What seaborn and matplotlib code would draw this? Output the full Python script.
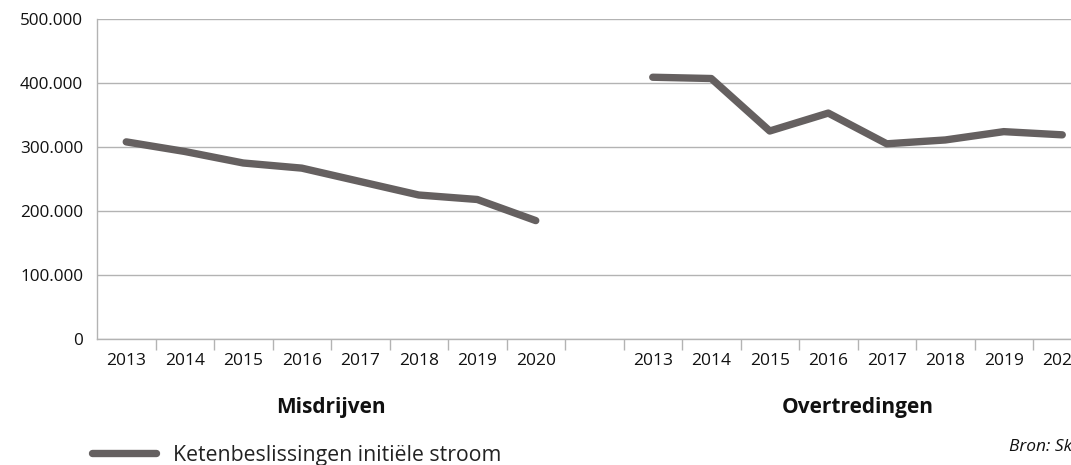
import matplotlib
matplotlib.use("Agg")
import matplotlib.pyplot as plt
import seaborn as sns
import pandas as pd
from matplotlib.ticker import FuncFormatter

years = ["2013", "2014", "2015", "2016", "2017", "2018", "2019", "2020"]
misdrijven = [308000, 293000, 275000, 267000, 246000, 225000, 218000, 185000]
overtredingen = [409000, 407000, 325000, 353000, 305000, 311000, 324000, 319000]
groups = ["Misdrijven", "Overtredingen"]
series_name = "Ketenbeslissingen initiële stroom"
source = "Bron: Skdb"

sns.set_theme(style="white")
plt.rcParams["font.family"] = ["Open Sans", "DejaVu Sans"]

rows = []
for g, vals, offset in [(groups[0], misdrijven, 0), (groups[1], overtredingen, 9)]:
    for i, (y, v) in enumerate(zip(years, vals)):
        rows.append({"group": g, "year": y, "pos": offset + i, "value": v})
df = pd.DataFrame(rows)

W, H = 1071, 465
fig = plt.figure(figsize=(W / 100, H / 100), dpi=100)
cat_w = 58.5
ax = fig.add_axes([97 / W, (H - 339) / H, 17 * cat_w / W, 320 / H])

line_color = "#656060"
for i, g in enumerate(groups):
    sub = df[df["group"] == g]
    sns.lineplot(data=sub, x="pos", y="value", ax=ax, color=line_color,
                 linewidth=5.3, solid_capstyle="round", solid_joinstyle="round",
                 label=series_name if i == 0 else None, legend=False, zorder=3)

ax.set_xlabel("")
ax.set_ylabel("")
ax.set_xlim(-0.5, 16.5)
ax.set_ylim(0, 500000)
ax.set_yticks(range(0, 500001, 100000))
ax.yaxis.set_major_formatter(FuncFormatter(lambda v, p: f"{int(v):,}".replace(",", ".")))
ax.grid(axis="y", color="#b3b3b3", linewidth=1.0)
ax.set_axisbelow(True)

# category boundary ticks
ax.set_xticks([k + 0.5 for k in range(16)])
ax.set_xticklabels([])
ax.tick_params(axis="x", direction="out", length=8, width=1, color="#b3b3b3", pad=0, bottom=True)
ax.tick_params(axis="y", length=0, labelsize=12.3, pad=10, labelcolor="#111111")

# year labels at category centers
for _, r in df.iterrows():
    ax.text(r["pos"], -0.045, r["year"], transform=ax.get_xaxis_transform(),
            ha="center", va="top", fontsize=12.5, color="#111111", clip_on=False)

# group labels
for g, c in zip(groups, [3.5, 12.5]):
    ax.text(c, -0.215, g, transform=ax.get_xaxis_transform(), ha="center", va="center",
            fontsize=15, fontweight="bold", color="#111111")

for s in ["top", "right"]:
    ax.spines[s].set_visible(False)
ax.spines["left"].set_color("#b3b3b3")
ax.spines["bottom"].set_color("#b3b3b3")
ax.spines["left"].set_linewidth(1.0)
ax.spines["bottom"].set_linewidth(1.0)

handles, labels = ax.get_legend_handles_labels()
fig.legend(handles, labels, loc="center left", bbox_to_anchor=(92 / W, 1 - 455 / H),
           frameon=False, fontsize=15.3, handlelength=3.0, handletextpad=0.8,
           borderpad=0, borderaxespad=0, labelcolor="#222222")

fig.text(1009 / W, 1 - 447 / H, source, ha="left", va="center", fontsize=12.5,
         style="italic", color="#111111")

fig.savefig("out.png", dpi=100)
